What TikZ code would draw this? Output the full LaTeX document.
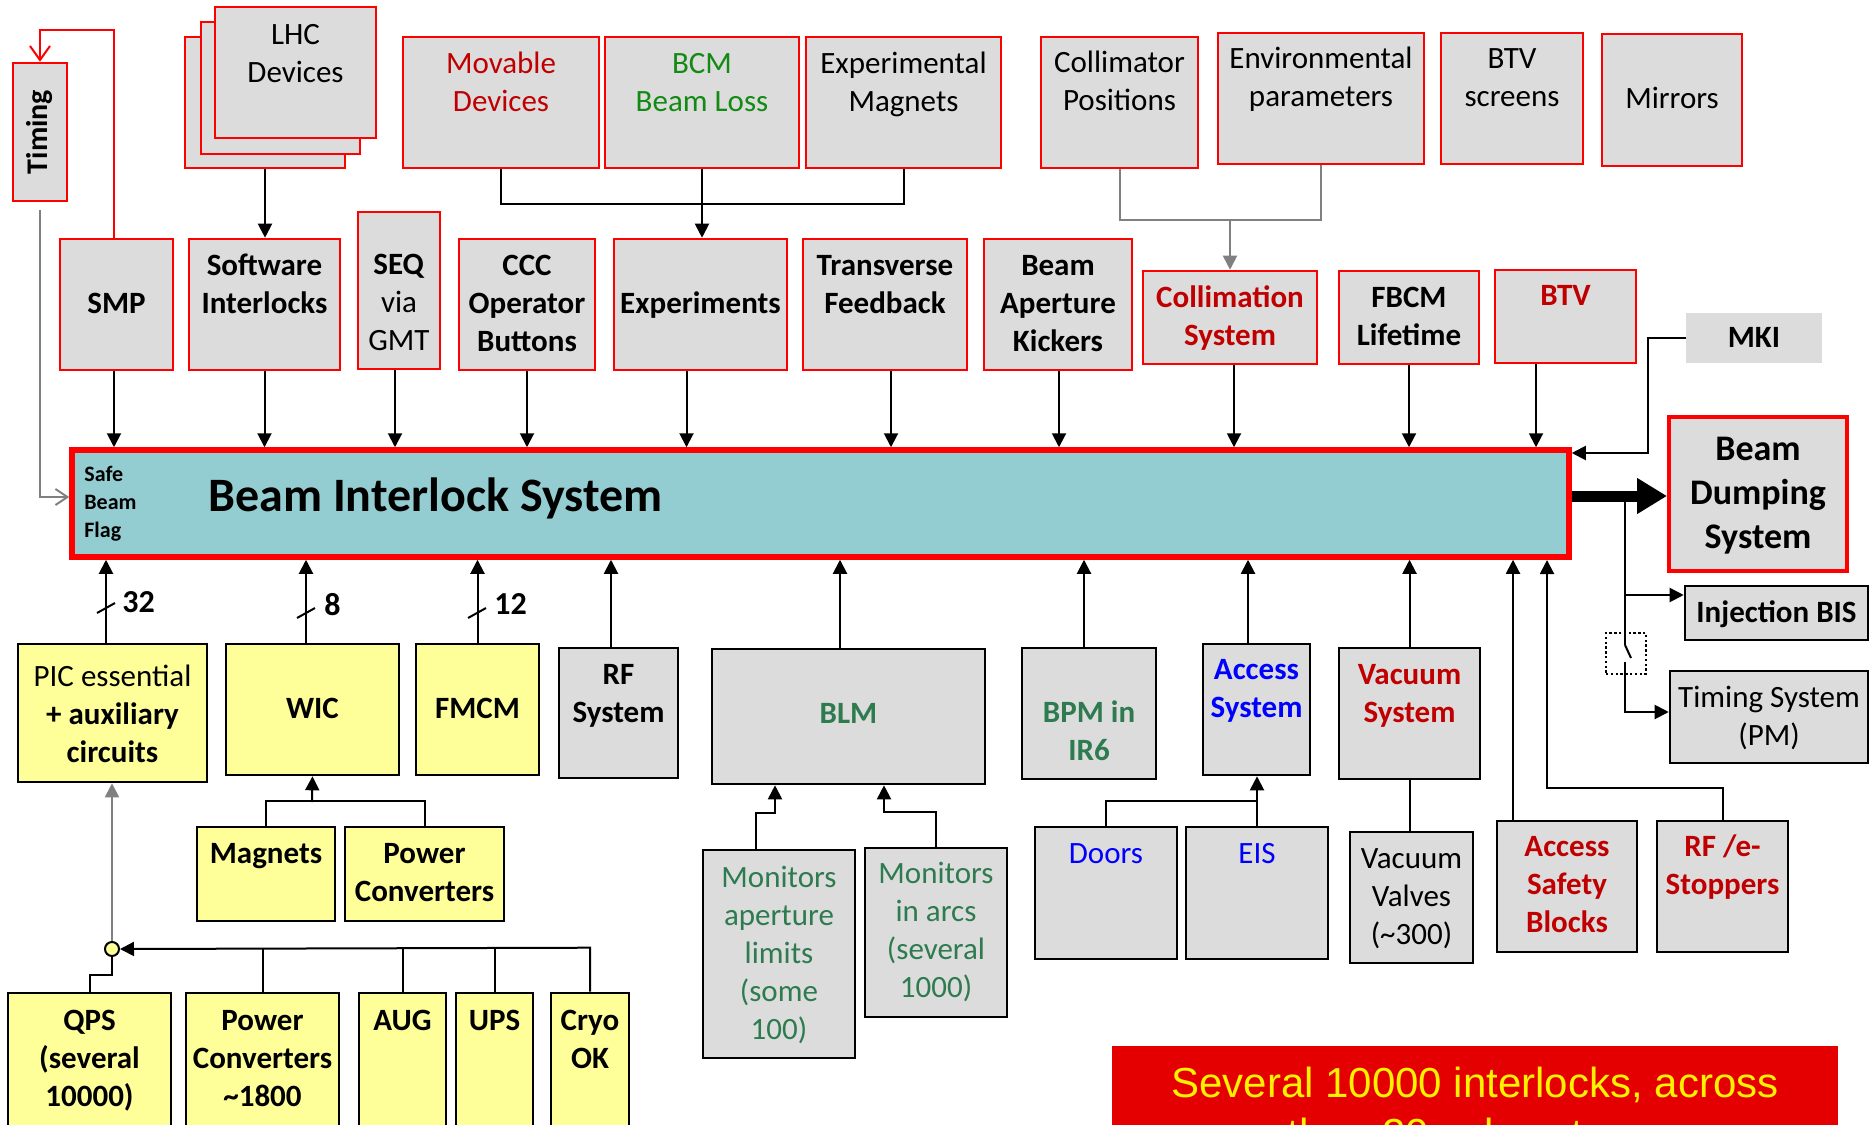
\documentclass[tikz,border=0pt]{standalone}
\usepackage{fontspec}
\setmainfont{Carlito}
\newfontfamily\arialf{Liberation Sans}
\usetikzlibrary{arrows.meta,fit,calc}
\definecolor{boxgray}{HTML}{DCDCDC}
\definecolor{yel}{HTML}{FFFF99}
\definecolor{bisteal}{HTML}{93CDD1}
\definecolor{dred}{HTML}{C00000}
\definecolor{bcmgreen}{HTML}{138A13}
\definecolor{blmgreen}{HTML}{2E7B50}
\definecolor{bblue}{HTML}{0000FF}
\definecolor{banred}{HTML}{E40000}
\definecolor{lgray}{HTML}{808080}
\newcommand\nfont{\fontsize{15.5}{19}\selectfont}
\newcommand\bx[6]{\node[#1, fit={(#3,#4)(#5,#6)}] (#2) {};}
% text node: name, style, x, baseline of LAST line, text
\newcommand\tn[5]{\node[#2] (#1) at (#3,#4) {#5};}
\begin{document}
\begin{tikzpicture}[x=0.5pt,y=-0.5pt,
  rbox/.style={draw=red, line width=1.3pt, fill=boxgray, inner sep=0pt},
  kbox/.style={draw=black, line width=1.3pt, fill=boxgray, inner sep=0pt},
  ybox/.style={draw=black, line width=1.3pt, fill=yel, inner sep=0pt},
  txt/.style={inner sep=0pt, align=center, anchor=base, font=\nfont},
  btxt/.style={txt, font={\nfont\bfseries}},
  ln/.style={draw=black, line width=1pt},
  arr/.style={ln, -{Triangle[width=7pt,length=7pt]}},
  garr/.style={draw=lgray, line width=1pt, -{Triangle[width=7pt,length=7pt]}},
  gln/.style={draw=lgray, line width=1pt},
  gbarb/.style={draw=lgray, line width=1pt, -{Straight Barb[width=8pt,length=6pt]}},
  rbarb/.style={draw=red, line width=1pt, -{Straight Barb[width=10pt,length=7pt]}},
  buslbl/.style={inner sep=0pt, anchor=base west, font={\fontsize{16}{19}\selectfont\bfseries}}
]
\useasboundingbox (0,0) rectangle (1872,1124);

% ---------- top row ----------
\bx{rbox}{lhc1}{185}{37}{345}{168}
\bx{rbox}{lhc2}{201}{22}{360}{154}
\bx{rbox}{lhc3}{215}{7}{376}{138}
\bx{rbox}{mov}{403}{37}{599}{168}
\bx{rbox}{bcm}{605}{37}{799}{168}
\bx{rbox}{exm}{806}{37}{1001}{168}
\bx{rbox}{colp}{1041}{37}{1198}{168}
\bx{rbox}{env}{1218}{33}{1424}{164}
\bx{rbox}{btvs}{1441}{33}{1583}{164}
\bx{rbox}{mir}{1602}{34}{1742}{166}
\tn{lhc-t}{txt}{295.5}{82}{LHC\\Devices}
\tn{mov-t}{txt,text=dred}{501}{111}{Movable\\Devices}
\tn{bcm-t}{txt,text=bcmgreen}{702}{111}{BCM\\Beam Loss}
\tn{exm-t}{txt}{903.5}{111}{Experimental\\Magnets}
\tn{colp-t}{txt}{1119.5}{110}{Collimator\\Positions}
\tn{env-t}{txt}{1321}{106}{Environmental\\parameters}
\tn{btvs-t}{txt}{1512}{106}{BTV\\screens}
\tn{mir-t}{txt}{1672}{108}{Mirrors}

% ---------- timing ----------
\bx{rbox}{timing}{13}{63}{67}{201}
\node[inner sep=0pt, rotate=90, font={\fontsize{15}{18}\selectfont\bfseries}] (timing-t) at (timing.center) {Timing};

% ---------- second row ----------
\bx{rbox}{smp}{60}{239}{173}{370}
\bx{rbox}{swi}{189}{239}{340}{370}
\bx{rbox}{seq}{358}{212}{440}{369}
\bx{rbox}{ccc}{459}{239}{595}{370}
\bx{rbox}{exp}{614}{239}{787}{370}
\bx{rbox}{tfb}{803}{239}{967}{370}
\bx{rbox}{bak}{984}{239}{1132}{370}
\bx{rbox}{coll}{1143}{271}{1317}{364}
\bx{rbox}{fbcm}{1339}{271}{1479}{364}
\bx{rbox}{btv}{1495}{270}{1636}{363}
\node[fill=boxgray, inner sep=0pt, fit={(1686,313)(1822,363)}] (mki) {};
\tn{smp-t}{btxt}{116.5}{313}{SMP}
\tn{swi-t}{btxt}{264.5}{313}{Software\\Interlocks}
\tn{seq-t}{txt}{399}{350}{\textbf{SEQ}\\via\\GMT}
\tn{ccc-t}{btxt}{527}{351}{CCC\\Operator\\Buttons}
\tn{exp-t}{btxt}{700.5}{313}{Experiments}
\tn{tfb-t}{btxt}{885}{313}{Transverse\\Feedback}
\tn{bak-t}{btxt}{1058}{351}{Beam\\Aperture\\Kickers}
\tn{coll-t}{btxt,text=dred}{1230}{345}{Collimation\\System}
\tn{fbcm-t}{btxt}{1409}{345}{FBCM\\Lifetime}
\tn{btv-t}{btxt,text=dred}{1565.5}{305}{BTV}
\tn{mki-t}{btxt}{1754}{347}{MKI}

% ---------- BIS ----------
\node[draw=red, line width=2.75pt, fill=bisteal, inner sep=0pt, fit={(72,450)(1569,557)}] (bis) {};
\node[inner sep=0pt, anchor=base west, align=left, font={\fontsize{11}{14}\selectfont\bfseries}] (sbf) at (84,537) {Safe\\Beam\\Flag};
\node[inner sep=0pt, anchor=base west, font={\fontsize{24}{29}\selectfont\bfseries}] (bis-t) at (208,511) {Beam Interlock System};

% ---------- right side ----------
\node[draw=red, line width=2pt, fill=boxgray, inner sep=0pt, fit={(1669,417)(1847,571)}] (bds) {};
\node[txt, font={\fontsize{18}{22}\selectfont\bfseries}] (bds-t) at (1758,548) {Beam\\Dumping\\System};
\bx{kbox}{inj}{1685}{586}{1868}{640}
\bx{kbox}{tsys}{1670}{671}{1868}{763}
\tn{inj-t}{btxt}{1776.5}{622}{Injection BIS}
\tn{tsys-t}{txt}{1769}{745}{Timing System\\(PM)}
\node[draw=black, line width=1pt, dash pattern=on 1.2pt off 1.2pt, inner sep=0pt, fit={(1606,633)(1646,674)}] (sw) {};

% ---------- bottom row ----------
\bx{ybox}{pic}{18}{644}{207}{782}
\bx{ybox}{wic}{226}{644}{399}{775}
\bx{ybox}{fmcm}{416}{644}{539}{775}
\bx{kbox}{rf}{559}{648}{678}{778}
\bx{kbox}{blm}{712}{649}{985}{784}
\bx{kbox}{bpm}{1022}{648}{1156}{779}
\bx{kbox}{acc}{1203}{644}{1310}{775}
\bx{kbox}{vac}{1339}{648}{1480}{779}
\tn{pic-t}{txt}{112.5}{762}{PIC essential\\\textbf{+ auxiliary}\\\textbf{circuits}}
\tn{wic-t}{btxt}{312.5}{718}{WIC}
\tn{fmcm-t}{btxt}{477.5}{718}{FMCM}
\tn{rf-t}{btxt}{618.5}{722}{RF\\System}
\tn{blm-t}{btxt,text=blmgreen}{848.5}{723}{BLM}
\tn{bpm-t}{btxt,text=blmgreen}{1089}{760}{BPM in\\IR6}
\tn{acc-t}{btxt,text=bblue}{1256.5}{717}{Access\\System}
\tn{vac-t}{btxt,text=dred}{1409.5}{722}{Vacuum\\System}

% ---------- lower level ----------
\bx{ybox}{mag}{197}{827}{335}{921}
\bx{ybox}{pcv}{345}{827}{504}{921}
\bx{ybox}{qps}{8}{993}{171}{1200}
\bx{ybox}{pc2}{186}{993}{339}{1200}
\bx{ybox}{aug}{359}{993}{446}{1200}
\bx{ybox}{ups}{456}{993}{533}{1200}
\bx{ybox}{cryo}{551}{993}{629}{1200}
\bx{kbox}{mon1}{703}{850}{855}{1058}
\bx{kbox}{mon2}{865}{848}{1007}{1017}
\bx{kbox}{doors}{1035}{827}{1177}{959}
\bx{kbox}{eis}{1186}{827}{1328}{959}
\bx{kbox}{valv}{1350}{832}{1473}{963}
\bx{kbox}{asb}{1497}{821}{1637}{952}
\bx{kbox}{rfe}{1657}{821}{1788}{952}
\tn{mag-t}{btxt}{266}{863}{Magnets}
\tn{pcv-t}{btxt}{424.5}{901}{Power\\Converters}
\tn{qps-t}{btxt}{89.5}{1106}{QPS\\(several\\10000)}
\tn{pc2-t}{btxt}{262.5}{1106}{Power\\Converters\\\textasciitilde1800}
\tn{aug-t}{btxt}{402.5}{1030}{AUG}
\tn{ups-t}{btxt}{494.5}{1030}{UPS}
\tn{cryo-t}{btxt}{590}{1068}{Cryo\\OK}
\tn{mon1-t}{txt,text=blmgreen}{779}{1039}{Monitors\\aperture\\limits\\(some\\100)}
\tn{mon2-t}{txt,text=blmgreen}{936}{997}{Monitors\\in arcs\\(several\\1000)}
\tn{doors-t}{txt,text=bblue}{1106}{863}{Doors}
\tn{eis-t}{txt,text=bblue}{1257}{863}{EIS}
\tn{valv-t}{txt}{1411.5}{944}{Vacuum\\Valves\\(\textasciitilde300)}
\tn{asb-t}{btxt,text=dred}{1567}{932}{Access\\Safety\\Blocks}
\tn{rfe-t}{btxt,text=dred}{1722.5}{894}{RF /e-\\Stoppers}

\node[circle, draw=black, line width=1pt, fill=yel, minimum size=7pt, inner sep=0pt] (junc) at (112,949) {};

% ---------- banner ----------
\node[fill=banred, inner sep=0pt, fit={(1112,1046)(1838,1200)}] (banner) {};
\node[inner sep=0pt, anchor=base, align=center, text=yellow, font={\arialf\fontsize{21}{25.5}\selectfont}] (banner-t) at (1475,1148) {Several 10000 interlocks, across\\the \textasciitilde20 subsystems};

% ---------- connectors: top ----------
\draw[arr] (lhc1.south) -- (lhc1.south |- swi.north);
\draw[ln] (mov.south) -- ++(0,35) -| (exm.south);
\draw[arr] (bcm.south) -- (bcm.south |- exp.north);
\draw[gln] (colp.south) -- ++(0,51) -| (env.south);
\coordinate (cj) at (1230,219);
\draw[garr] (cj) -- (coll.north);
\draw[rbarb] ([xshift=-1.5pt]smp.north) -- ++(0,-208) -| (timing.north);
\draw[gbarb] ([yshift=-4pt]timing.south) |- ([yshift=3.25pt]bis.west);

% ---------- connectors: into BIS from above ----------
\draw[arr] ([xshift=-1.25pt]smp.south) -- ([xshift=-1.25pt]smp.south |- bis.north);
\draw[arr] (swi.south) -- (swi.south |- bis.north);
\draw[arr] ([xshift=-2pt]seq.south) -- ([xshift=-2pt]seq.south |- bis.north);
\draw[arr] (ccc.south) -- (ccc.south |- bis.north);
\draw[arr] ([xshift=-7pt]exp.south) -- ([xshift=-7pt]exp.south |- bis.north);
\draw[arr] ([xshift=3pt]tfb.south) -- ([xshift=3pt]tfb.south |- bis.north);
\draw[arr] ([xshift=0.5pt]bak.south) -- ([xshift=0.5pt]bak.south |- bis.north);
\draw[arr] ([xshift=2pt]coll.south) -- ([xshift=2pt]coll.south |- bis.north);
\draw[arr] (fbcm.south) -- (fbcm.south |- bis.north);
\draw[arr] ([xshift=-14.75pt]btv.south) -- ([xshift=-14.75pt]btv.south |- bis.north);
\draw[arr] (mki.west) -- ++(-38,0) |- ([yshift=25.25pt]bis.east);

% ---------- connectors: into BIS from below ----------
\draw[arr] ([xshift=-3.25pt]pic.north) -- ([xshift=-3.25pt]pic.north |- bis.south);
\draw[arr] ([xshift=-3.25pt]wic.north) -- ([xshift=-3.25pt]wic.north |- bis.south);
\draw[arr] (fmcm.north) -- (fmcm.north |- bis.south);
\draw[arr] ([xshift=-3.75pt]rf.north) -- ([xshift=-3.75pt]rf.north |- bis.south);
\draw[arr] ([xshift=-4.25pt]blm.north) -- ([xshift=-4.25pt]blm.north |- bis.south);
\draw[arr] ([xshift=-2.5pt]bpm.north) -- ([xshift=-2.5pt]bpm.north |- bis.south);
\draw[arr] ([xshift=-4.25pt]acc.north) -- ([xshift=-4.25pt]acc.north |- bis.south);
\draw[arr] (vac.north) -- (vac.north |- bis.south);
\draw[arr] ([xshift=-27pt]asb.north) -- ([xshift=-27pt]asb.north |- bis.south);
\coordinate (rfein) at (1547,560);
\draw[arr] (rfe.north) -- ++(0,-32) -| (rfein);

% bus slashes
\draw[ln] (97,613) -- (115,603);
\draw[ln] (297,618) -- (315,608);
\draw[ln] (468,618) -- (486,608);
\node[buslbl] (n32) at (122,612) {32};
\node[buslbl] (n8) at (324,615) {8};
\node[buslbl] (n12) at (494,614) {12};

% ---------- output side ----------
\draw[line width=5.5pt, -{Triangle[width=17pt,length=15pt]}] ([yshift=3.75pt]bis.east) -- ([yshift=3.75pt]bis.east -| bds.west);
\coordinate (br) at (1625,496);
\coordinate (swtop) at (1625,645);
\coordinate (swbot) at (1625,662);
\draw[ln] (br) -- (swtop);
\draw[ln] (swtop) -- ++(6,13);
\draw[arr] (br) ++(0,99) -- ([yshift=9pt]inj.west);
\draw[arr] (swbot) |- ([yshift=2.5pt]tsys.west);

% ---------- lower connectors ----------
\draw[ln] (mag.north) -- ++(0,-25) -| (pcv.north);
\coordinate (mj) at (312,802);
\draw[arr] (mj) -- (wic.south);
\draw[garr] (junc.north) -- (junc.north |- pic.south);
\draw[ln] (qps.north) -- ++(0,-17) -| (junc.south);
\draw[arr] (cryo.north) -- ++(0,-44) -- (junc.east);
\draw[ln] (pc2.north) -- (pc2.north |- junc.east);
\draw[ln] (aug.north) -- (aug.north |- junc.east);
\draw[ln] (ups.north) -- (ups.north |- junc.east);
\draw[arr] ([xshift=-11.5pt]mon1.north) -- ++(0,-36) -| ([xshift=-36.75pt]blm.south);
\draw[arr] (mon2.north) -- ++(0,-35) -| ([xshift=17.75pt]blm.south);
\draw[ln] (doors.north) -- ++(0,-25) -| (eis.north);
\draw[arr] (eis.north) -- (eis.north |- acc.south);
\draw[ln] (vac.south) -- (vac.south |- valv.north);
\end{tikzpicture}
\end{document}
